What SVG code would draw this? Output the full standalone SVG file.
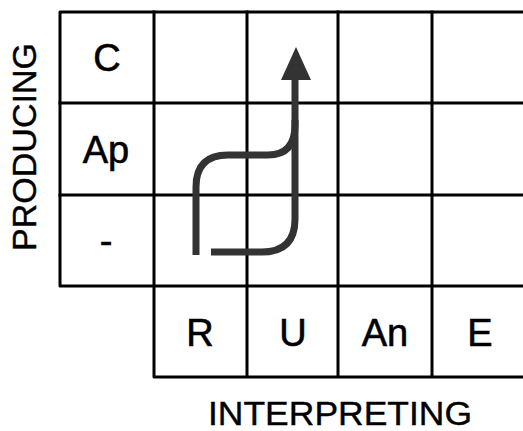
<svg xmlns="http://www.w3.org/2000/svg" width="523" height="431" viewBox="0 0 523 431">
<style>
.grid{fill:none;stroke:#000;stroke-width:3;stroke-linejoin:round;stroke-linecap:square}
.lbl{font-family:"Liberation Sans",Arial,sans-serif;font-size:38px;fill:#000;stroke:#000;stroke-width:0.6;text-anchor:middle}
.axis{font-family:"Liberation Sans",Arial,sans-serif;font-size:34px;fill:#000;stroke:#000;stroke-width:0.4;text-anchor:middle}
.flow{fill:none;stroke:#333;stroke-width:7;stroke-linecap:butt;stroke-linejoin:round}
</style>
<rect width="523" height="431" fill="#fff"/>
<g id="grid">
<path class="grid" d="M523,12 H60 V286 H523"/>
<path class="grid" d="M60,103 H523 M60,195 H523"/>
<path class="grid" d="M154,12 V377 H523 M247,12 V377 M338,12 V377 M432,12 V377"/>
</g>
<g id="row-C"><text class="lbl" x="107" y="71">C</text></g>
<g id="row-Ap"><text class="lbl" x="106" y="163">Ap</text></g>
<g id="row-dash"><text class="lbl" x="106" y="254">-</text></g>
<g id="col-R"><text class="lbl" x="200" y="346">R</text></g>
<g id="col-U"><text class="lbl" x="293" y="346">U</text></g>
<g id="col-An"><text class="lbl" x="385" y="346">An</text></g>
<g id="col-E"><text class="lbl" x="480" y="346">E</text></g>
<g id="axis-producing"><text class="axis" transform="translate(36,147) rotate(-90)">PRODUCING</text></g>
<g id="axis-interpreting"><text class="axis" x="340" y="425" textLength="264" lengthAdjust="spacingAndGlyphs">INTERPRETING</text></g>
<g id="connectors">
<path class="flow" d="M196,255 V187 Q196,155 228,155 H268 Q295,155 295,125 V78"/>
<path class="flow" d="M211,252 H262 Q295,252 295,219 V120"/>
<polygon points="296,47 281,80 311,80" fill="#333"/>
</g>
</svg>
